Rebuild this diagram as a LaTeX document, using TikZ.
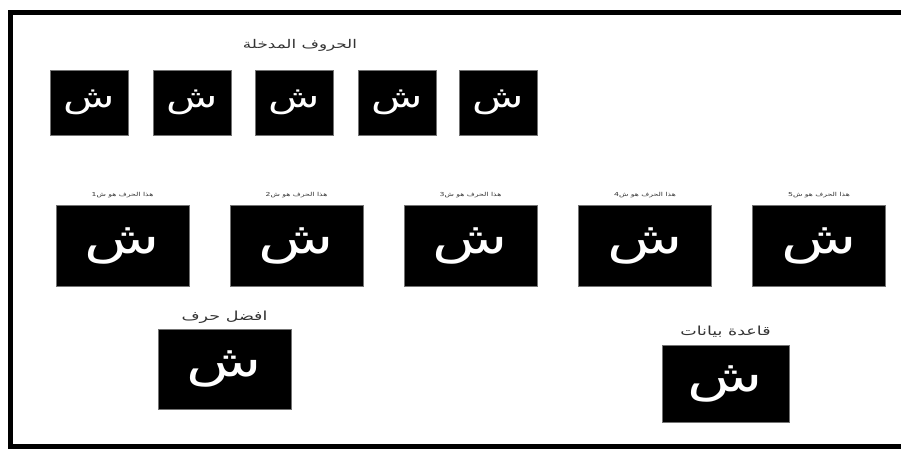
\documentclass[tikz,border=0pt]{standalone}
\usepackage{fontspec}
\newfontfamily\arabicfont[Script=Arabic,FakeStretch=1.4]{DejaVu Sans}
\TeXXeTstate=1
\usetikzlibrary{positioning}
\tikzset{
  caja/.style={draw=black!55, fill=black, text=white, inner sep=0pt, font=\arabicfont},
  rotulo/.style={text=black!80, inner sep=1pt},
}
\newcommand{\letra}[1]{\fontsize{#1}{#1}\selectfont\beginR ش\endR}
\begin{document}
\begin{tikzpicture}[x=1pt, y=-1pt]
  \useasboundingbox (0,0) rectangle (901,449);
  % marco abierto a la derecha
  \draw[line width=5pt] (901,13) -- (10,13) -- (10,446) -- (901,446);
  % letras de entrada
  \node[rotulo, font=\arabicfont\fontsize{12}{13}\selectfont] (tit) at (300,45) {\beginR الحروف المدخلة\endR};
  \node[caja, minimum width=78pt, minimum height=65pt] (e1) at (89,102.5) {\letra{30}};
  \node[caja, minimum width=78pt, minimum height=65pt] (e2) at (192,102.5) {\letra{30}};
  \node[caja, minimum width=78pt, minimum height=65pt] (e3) at (294,102.5) {\letra{30}};
  \node[caja, minimum width=78pt, minimum height=65pt] (e4) at (397,102.5) {\letra{30}};
  \node[caja, minimum width=78pt, minimum height=65pt] (e5) at (498,102.5) {\letra{30}};
  % letras de la base
  \node[caja, minimum width=133pt, minimum height=81pt] (s1) at (122.5,245.5) {\letra{44}};
  \node[caja, minimum width=133pt, minimum height=81pt] (s2) at (296.5,245.5) {\letra{44}};
  \node[caja, minimum width=133pt, minimum height=81pt] (s3) at (470.5,245.5) {\letra{44}};
  \node[caja, minimum width=133pt, minimum height=81pt] (s4) at (645,245.5) {\letra{44}};
  \node[caja, minimum width=133pt, minimum height=81pt] (s5) at (819,245.5) {\letra{44}};
  \node[rotulo, font=\arabicfont\fontsize{5.5}{6}\selectfont, above=6pt of s1] (r1) {\beginR هذا الحرف هو ش1\endR};
  \node[rotulo, font=\arabicfont\fontsize{5.5}{6}\selectfont, above=6pt of s2] (r2) {\beginR هذا الحرف هو ش2\endR};
  \node[rotulo, font=\arabicfont\fontsize{5.5}{6}\selectfont, above=6pt of s3] (r3) {\beginR هذا الحرف هو ش3\endR};
  \node[rotulo, font=\arabicfont\fontsize{5.5}{6}\selectfont, above=6pt of s4] (r4) {\beginR هذا الحرف هو ش4\endR};
  \node[rotulo, font=\arabicfont\fontsize{5.5}{6}\selectfont, above=6pt of s5] (r5) {\beginR هذا الحرف هو ش5\endR};
  % resultado
  \node[caja, minimum width=133pt, minimum height=80pt] (mejor) at (224.5,369) {\letra{44}};
  \node[rotulo, font=\arabicfont\fontsize{12.5}{13}\selectfont, above=4pt of mejor] (rm) {\beginR افضل حرف\endR};
  \node[caja, minimum width=127pt, minimum height=77pt] (base) at (725.5,383.5) {\letra{44}};
  \node[rotulo, font=\arabicfont\fontsize{12.5}{13}\selectfont, above=6pt of base] (rb) {\beginR قاعدة بيانات\endR};
\end{tikzpicture}
\end{document}
